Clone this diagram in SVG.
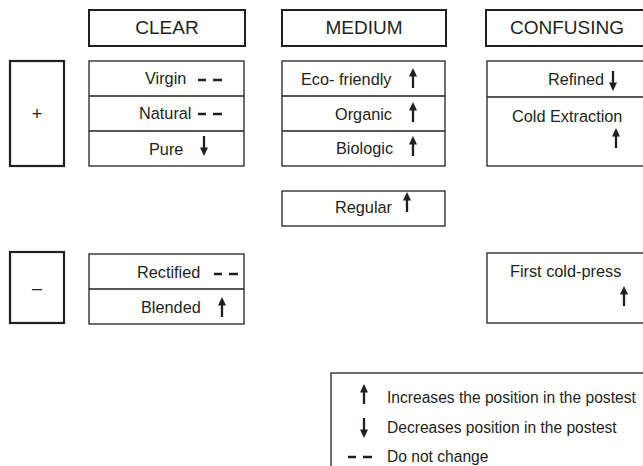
<svg xmlns="http://www.w3.org/2000/svg" xmlns:xlink="http://www.w3.org/1999/xlink" width="643" height="466" viewBox="0 0 643 466">
<style>
  .hdr { fill: #fff; stroke: #231f20; stroke-width: 2; }
  .box { fill: #fff; stroke: #231f20; stroke-width: 1.3; }
  .sign { fill: #fff; stroke: #231f20; stroke-width: 2.2; }
  .div { stroke: #231f20; stroke-width: 1.3; }
  text { font-family: "Liberation Sans", Arial, sans-serif; fill: #231f20; }
  .h { font-size: 19px; text-anchor: middle; }
  .t { font-size: 16.3px; }
  .l { font-size: 15.6px; }
  .s { font-size: 18px; text-anchor: middle; }
  .dash { stroke: #231f20; stroke-width: 2.5; }
</style>
<defs>
  <g id="up">
    <polygon points="0,0 -4,8.5 4,8.5" fill="#231f20"/>
    <line x1="0" y1="6" x2="0" y2="20" stroke="#231f20" stroke-width="2.3"/>
  </g>
  <g id="down">
    <polygon points="0,20 -4,11.5 4,11.5" fill="#231f20"/>
    <line x1="0" y1="0" x2="0" y2="14" stroke="#231f20" stroke-width="2.3"/>
  </g>
  <g id="nc">
    <line x1="0" y1="0" x2="8" y2="0" class="dash"/>
    <line x1="15" y1="0" x2="24" y2="0" class="dash"/>
  </g>
</defs>

<g id="header-clear">
  <rect class="hdr" x="89" y="10" width="156" height="36"/>
  <text class="h" x="167" y="34">CLEAR</text>
</g>
<g id="header-medium">
  <rect class="hdr" x="282" y="10" width="164" height="36"/>
  <text class="h" x="364" y="34">MEDIUM</text>
</g>
<g id="header-confusing">
  <rect class="hdr" x="486" y="10" width="162" height="36"/>
  <text class="h" x="567" y="34">CONFUSING</text>
</g>

<g id="plus">
  <rect class="sign" x="10" y="61" width="54" height="105"/>
  <text class="s" x="37" y="120">+</text>
</g>
<g id="minus">
  <rect class="sign" x="10" y="252" width="54" height="71"/>
  <text class="s" x="37" y="294">–</text>
</g>

<g id="clear-plus">
  <rect class="box" x="89" y="61" width="155" height="105"/>
  <line class="div" x1="89" y1="96" x2="244" y2="96"/>
  <line class="div" x1="89" y1="131" x2="244" y2="131"/>
  <text class="t" x="145" y="84">Virgin</text>
  <use xlink:href="#nc" x="198" y="80"/>
  <text class="t" x="139" y="119">Natural</text>
  <use xlink:href="#nc" x="198" y="114"/>
  <text class="t" x="149" y="155">Pure</text>
  <use xlink:href="#down" x="204" y="136"/>
</g>

<g id="medium-plus">
  <rect class="box" x="282" y="61" width="163" height="105"/>
  <line class="div" x1="282" y1="96" x2="445" y2="96"/>
  <line class="div" x1="282" y1="131" x2="445" y2="131"/>
  <text class="t" x="301" y="85">Eco- friendly</text>
  <use xlink:href="#up" x="413" y="68"/>
  <text class="t" x="335" y="120">Organic</text>
  <use xlink:href="#up" x="413" y="102"/>
  <text class="t" x="336" y="154">Biologic</text>
  <use xlink:href="#up" x="413" y="136"/>
</g>

<g id="medium-regular">
  <rect class="box" x="282" y="191" width="163" height="35"/>
  <text class="t" x="335" y="213">Regular</text>
  <use xlink:href="#up" x="407" y="192"/>
</g>

<g id="confusing-plus">
  <rect class="box" x="487" y="61" width="162" height="105"/>
  <line class="div" x1="487" y1="97" x2="649" y2="97"/>
  <text class="t" x="548" y="85">Refined</text>
  <use xlink:href="#down" x="613" y="71"/>
  <text class="t" x="512" y="122">Cold Extraction</text>
  <use xlink:href="#up" x="616" y="128"/>
</g>

<g id="clear-minus">
  <rect class="box" x="89" y="254" width="155" height="70"/>
  <line class="div" x1="89" y1="289" x2="244" y2="289"/>
  <text class="t" x="137" y="278">Rectified</text>
  <use xlink:href="#nc" x="214" y="274"/>
  <text class="t" x="141" y="313">Blended</text>
  <use xlink:href="#up" x="222" y="297"/>
</g>

<g id="confusing-minus">
  <rect class="box" x="487" y="253" width="162" height="70"/>
  <text class="t" x="510" y="277">First cold-press</text>
  <use xlink:href="#up" x="624" y="286"/>
</g>

<g id="legend">
  <rect class="box" x="331" y="373" width="320" height="100"/>
  <use xlink:href="#up" x="364" y="384"/>
  <text class="l" x="387" y="403">Increases the position in the postest</text>
  <use xlink:href="#down" x="364" y="418"/>
  <text class="l" x="387" y="433">Decreases position in the postest</text>
  <use xlink:href="#nc" x="348" y="457"/>
  <text class="l" x="387" y="462">Do not change</text>
</g>
</svg>
